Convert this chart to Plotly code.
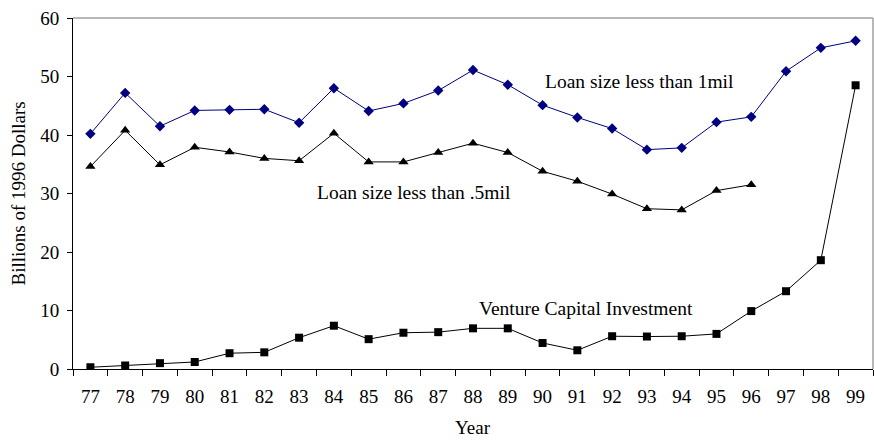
import plotly.graph_objects as go

years = ["77","78","79","80","81","82","83","84","85","86","87","88","89","90","91","92","93","94","95","96","97","98","99"]
loan_1mil = [40.2,47.2,41.5,44.2,44.3,44.4,42.1,48.0,44.1,45.4,47.6,51.1,48.6,45.1,43.0,41.1,37.5,37.8,42.2,43.1,50.9,54.9,56.1]
loan_05mil_years = years[:20]
loan_05mil = [34.6,40.8,34.9,37.9,37.1,36.0,35.6,40.3,35.4,35.4,37.0,38.6,37.0,33.8,32.1,29.9,27.4,27.2,30.5,31.5]
venture = [0.3,0.6,1.0,1.2,2.7,2.85,5.35,7.4,5.1,6.2,6.3,6.95,6.95,4.45,3.2,5.6,5.55,5.6,6.0,9.9,13.3,18.6,48.5]

FONT = "Liberation Serif"

fig = go.Figure()
fig.add_trace(go.Scatter(x=years, y=loan_1mil, mode="lines+markers",
                         line=dict(color="#000080", width=1),
                         marker=dict(symbol="diamond", size=8, color="#000080"),
                         name="Loan size less than 1mil"))
fig.add_trace(go.Scatter(x=loan_05mil_years, y=loan_05mil, mode="lines+markers",
                         line=dict(color="black", width=1),
                         marker=dict(symbol="triangle-up", size=9, color="black"),
                         name="Loan size less than .5mil"))
fig.add_trace(go.Scatter(x=years, y=venture, mode="lines+markers",
                         line=dict(color="black", width=1),
                         marker=dict(symbol="square", size=8, color="black"),
                         name="Venture Capital Investment"))

fig.update_layout(
    width=874, height=441,
    margin=dict(l=73, r=1, t=18, b=72),
    paper_bgcolor="white", plot_bgcolor="white",
    showlegend=False,
    font=dict(family=FONT, size=19, color="black"),
    xaxis=dict(type="category", categoryorder="array", categoryarray=years,
               range=[-0.5, 22.5], showgrid=False, zeroline=False,
               showline=True, linecolor="black", linewidth=1,
               ticks="outside", tickson="boundaries", ticklen=6, tickcolor="black",
               ticklabelstandoff=10,
               tickfont=dict(family=FONT, size=19)),
    yaxis=dict(range=[0, 60], tickvals=[0,10,20,30,40,50,60], showgrid=False,
               zeroline=False, showline=True, linecolor="black", linewidth=1,
               ticks="outside", ticklen=5, tickcolor="black",
               ticklabelstandoff=4,
               tickfont=dict(family=FONT, size=19)),
    shapes=[
        dict(type="line", xref="paper", yref="paper", x0=0, x1=1, y0=1, y1=1,
             line=dict(color="#a0a0a0", width=1.5)),
        dict(type="line", xref="paper", yref="paper", x0=1, x1=1, y0=0, y1=1,
             line=dict(color="#a0a0a0", width=1.5)),
    ],
    annotations=[
        dict(text="Loan size less than 1mil", xref="paper", yref="y", x=(543-73)/800, y=49.1,
             xanchor="left", yanchor="middle", showarrow=False, font=dict(size=19.5)),
        dict(text="Loan size less than .5mil", xref="paper", yref="y", x=(315-73)/800, y=30.1,
             xanchor="left", yanchor="middle", showarrow=False, font=dict(size=19.5)),
        dict(text="Venture Capital Investment", xref="paper", yref="y", x=(477-73)/800, y=10.4,
             xanchor="left", yanchor="middle", showarrow=False, font=dict(size=19.5)),
        dict(text="Billions of 1996 Dollars", xref="paper", yref="paper",
             x=(18-73)/800, y=0.5, xanchor="center", yanchor="middle", textangle=-90,
             showarrow=False, font=dict(size=19)),
        dict(text="Year", xref="paper", yref="paper", x=0.5, y=-(440-369)/351,
             xanchor="center", yanchor="bottom", showarrow=False, font=dict(size=19)),
    ],
)

fig.write_html("out.html", config={"displayModeBar": False},
               post_script="document.body.style.margin='0';document.body.style.overflow='hidden';")
